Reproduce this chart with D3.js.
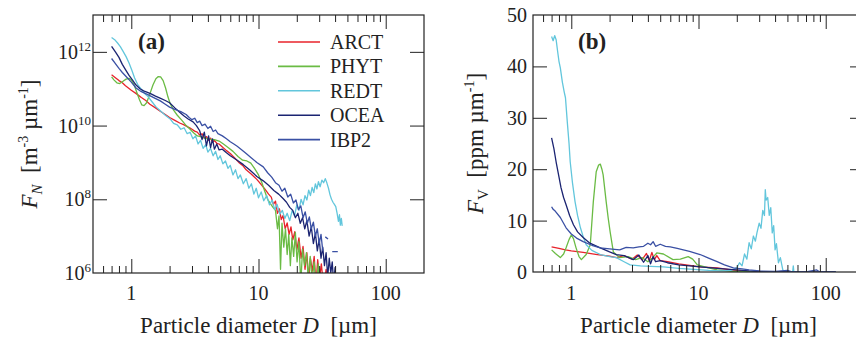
<!DOCTYPE html>
<html>
<head>
<meta charset="utf-8">
<script src="https://cdn.jsdelivr.net/npm/d3@7"></script>
<style>
  body { margin: 0; background: #fff; }
  svg { display: block; font-family: "Liberation Serif", "Times New Roman", serif; }
  .axis path { display: none; }
  .axis line { stroke: #222; stroke-width: 1; }
  .axis text { display: none; }
</style>
</head>
<body>
<div id="chart"></div>
<script>
// series names and colours
const seriesNames = ["ARCT", "PHYT", "REDT", "OCEA", "IBP2"];
const seriesColors = ["#e8232b", "#6abb44", "#62c6dc", "#1b2472", "#3a50a4"];

// panel (a): [diameter in µm, log10 of F_N]
const arctN = [[0.7,11.38],[0.75,11.3],[0.8,11.22],[0.85,11.16],[0.9,11.08],[1.0,10.96],[1.1,10.86],[1.2,10.76],[1.3,10.68],[1.4,10.58],[1.55,10.48],[1.7,10.38],[1.85,10.3],[2.0,10.22],[2.2,10.14],[2.4,10.07],[2.6,10.02],[2.75,9.97],[2.9,9.93],[3.0,9.9],[3.15,9.85],[3.3,9.82],[3.45,9.74],[3.6,9.78],[3.75,9.66],[3.9,9.7],[4.05,9.6],[4.2,9.66],[4.35,9.55],[4.5,9.6],[4.7,9.52],[4.9,9.5],[5.2,9.42],[5.6,9.32],[6.0,9.24],[6.5,9.12],[7.0,9.0],[7.5,8.92],[8.0,8.8],[8.8,8.68],[9.7,8.54],[10.5,8.4],[11.2,8.28],[12.0,8.14],[12.6,8.06],[13.1,7.86],[13.6,7.95],[14.1,7.62],[14.6,7.74],[15.1,7.45],[15.6,7.56],[16.2,7.2],[16.8,7.36],[17.4,7.05],[18.0,7.25],[18.6,6.9],[19.3,7.12],[20.0,6.62],[20.8,6.95],[21.6,6.4],[22.4,6.72],[23.2,6.1],[24.0,6.55],[24.8,5.8],[25.6,6.4],[26.5,6.05],[27.4,6.45],[28.3,5.7],[29.2,6.36],[30.2,5.85],[31.2,6.25],[32.5,5.6],[34,6.1],[35.5,5.5]];
const phytN = [[0.7,11.32],[0.73,11.24],[0.77,11.16],[0.81,11.14],[0.86,11.2],[0.91,11.26],[0.96,11.28],[1.0,11.24],[1.05,11.12],[1.1,10.92],[1.16,10.7],[1.21,10.56],[1.26,10.54],[1.32,10.62],[1.4,10.86],[1.48,11.1],[1.56,11.27],[1.63,11.33],[1.7,11.32],[1.78,11.22],[1.86,11.02],[1.94,10.78],[2.02,10.6],[2.15,10.42],[2.3,10.28],[2.5,10.14],[2.7,10.0],[2.9,9.9],[3.1,9.8],[3.3,9.72],[3.5,9.7],[3.8,9.66],[4.1,9.63],[4.5,9.62],[4.9,9.58],[5.3,9.5],[5.8,9.4],[6.3,9.3],[6.9,9.16],[7.5,9.06],[8.1,9.04],[8.7,8.98],[9.3,8.84],[10.0,8.66],[10.6,8.46],[11.2,8.22],[11.8,8.0],[12.4,7.88],[13.0,7.78],[13.6,7.7],[14.1,7.2],[14.5,7.55],[14.9,6.1],[15.3,7.35],[15.8,6.7],[16.3,7.2],[16.8,6.5],[17.3,7.05],[17.8,6.2],[18.3,6.95],[18.9,6.45],[19.5,7.1],[20.1,6.3],[20.8,6.85],[21.5,5.7],[22.2,6.65],[23.0,6.2],[23.8,6.55],[24.6,5.9],[25.5,6.45],[26.4,5.8],[27.4,6.3],[28.4,5.6],[29.5,6.25],[30.5,5.5]];
const redtN = [[0.7,12.39],[0.74,12.33],[0.78,12.24],[0.82,12.14],[0.86,12.02],[0.91,11.87],[0.96,11.7],[1.01,11.5],[1.06,11.3],[1.12,11.12],[1.2,10.98],[1.28,10.86],[1.36,10.78],[1.46,10.64],[1.57,10.5],[1.69,10.4],[1.85,10.28],[2.02,10.18],[2.15,10.06],[2.3,10.02],[2.45,9.9],[2.6,9.94],[2.75,9.78],[2.9,9.82],[3.05,9.64],[3.2,9.72],[3.35,9.5],[3.5,9.6],[3.67,9.38],[3.85,9.48],[4.0,9.28],[4.2,9.38],[4.4,9.18],[4.6,9.3],[4.8,9.08],[5.0,9.18],[5.25,8.96],[5.5,9.04],[5.75,8.84],[6.0,8.92],[6.3,8.66],[6.6,8.8],[6.9,8.56],[7.2,8.66],[7.6,8.42],[8.0,8.56],[8.4,8.3],[8.8,8.42],[9.2,8.14],[9.6,8.3],[10.0,8.04],[10.5,8.2],[11.0,7.96],[11.6,8.1],[12.2,7.85],[12.8,7.98],[13.4,7.72],[14.0,7.86],[14.7,7.6],[15.4,7.7],[16.1,7.48],[16.8,7.62],[17.6,7.42],[18.4,7.7],[19.2,7.55],[20.0,7.85],[20.8,7.7],[21.6,8.0],[22.4,7.85],[23.2,8.1],[24.0,7.98],[24.8,8.25],[25.6,8.1],[26.4,8.32],[27.2,8.18],[28.0,8.42],[28.8,8.28],[29.6,8.48],[30.5,8.34],[31.5,8.52],[32.5,8.45],[33.5,8.56],[34.5,8.44],[35.5,8.3],[36.5,8.12],[37.5,8.0],[38.5,7.92],[39.5,7.86],[40.5,7.8],[41.5,7.62],[42.5,7.4],[43.3,7.58],[44.0,7.3],[44.8,7.48],[45.5,7.28]];
const oceaN = [[0.7,12.15],[0.75,12.0],[0.8,11.85],[0.85,11.66],[0.91,11.49],[0.96,11.36],[1.02,11.24],[1.09,11.1],[1.17,11.0],[1.25,10.94],[1.34,10.9],[1.43,10.86],[1.55,10.8],[1.7,10.74],[1.85,10.68],[2.0,10.62],[2.2,10.48],[2.4,10.36],[2.6,10.26],[2.8,10.18],[3.06,10.1],[3.25,10.0],[3.45,9.86],[3.6,9.62],[3.75,9.82],[3.9,9.45],[4.05,9.72],[4.2,9.4],[4.35,9.64],[4.5,9.36],[4.7,9.5],[4.9,9.34],[5.2,9.36],[5.6,9.26],[6.0,9.18],[6.8,9.06],[7.6,8.94],[8.5,8.8],[9.7,8.62],[10.9,8.5],[12.0,8.38],[13.2,8.24],[14.4,8.14],[15.6,8.02],[16.6,7.92],[17.6,7.78],[18.6,7.7],[19.5,7.5],[20.4,7.62],[21.3,7.35],[22.2,7.5],[23.1,7.2],[24.0,7.42],[25.0,7.0],[26.0,7.25],[27.0,6.8],[28.0,7.08],[29.0,6.6],[30.0,6.92],[31.0,6.4],[32.0,6.7],[33.0,6.2],[34.0,6.55],[35.0,5.9],[36.0,6.4],[37.0,6.0],[38.0,6.3],[39.0,5.7],[40.0,6.15],[41,5.5]];
const ibp2N = [[0.7,11.82],[0.75,11.68],[0.8,11.55],[0.85,11.44],[0.91,11.33],[1.0,11.18],[1.09,11.02],[1.2,10.92],[1.35,10.84],[1.5,10.76],[1.69,10.67],[1.85,10.58],[2.0,10.5],[2.2,10.44],[2.45,10.38],[2.7,10.3],[2.85,10.22],[3.0,10.16],[3.15,10.2],[3.3,10.08],[3.45,10.12],[3.6,10.0],[3.8,10.04],[4.0,9.92],[4.2,9.98],[4.4,9.84],[4.6,9.88],[4.8,9.78],[5.2,9.72],[5.6,9.64],[6.0,9.56],[6.4,9.5],[6.8,9.44],[7.4,9.34],[8.0,9.24],[8.8,9.12],[9.7,9.0],[10.9,8.88],[11.8,8.72],[12.7,8.6],[13.6,8.45],[14.5,8.38],[15.3,8.22],[16.1,8.3],[17.0,8.06],[17.9,8.14],[18.8,7.9],[19.7,7.98],[20.6,7.72],[21.5,7.82],[22.4,7.5],[23.3,7.66],[24.2,7.35],[25.1,7.52],[26.0,7.2],[27.0,7.38],[28.0,7.0],[29.0,7.2],[30.0,6.8],[31.0,7.05],[32.0,6.6],[32.6,null],[33.5,6.98],[35.2,6.92],[36.0,null],[38.0,6.58],[42.0,6.58]];

// panel (b): [diameter in µm, F_V in ppm/µm]
const arctV = [[0.7,4.9],[0.8,4.6],[0.9,4.3],[1.0,4.1],[1.24,3.8],[1.6,3.4],[2.0,3.1],[2.26,2.8],[2.6,3.2],[3.0,2.5],[3.3,3.3],[3.6,2.4],[3.9,3.6],[4.1,2.2],[4.3,3.8],[4.5,2.4],[4.7,3.2],[5.0,2.2],[5.7,2.0],[7,1.6],[8.5,1.3],[10.3,1.0],[14,0.8],[18,0.4],[25,0.1],[30,0.05],[35,0]];
const phytV = [[0.7,4.3],[0.75,3.6],[0.82,2.8],[0.87,3.5],[0.91,4.7],[0.96,6.3],[1.0,7.2],[1.04,6.5],[1.09,4.7],[1.15,3.0],[1.2,2.4],[1.31,3.4],[1.41,5.3],[1.49,13.7],[1.57,19.5],[1.64,20.8],[1.69,21.0],[1.74,20.0],[1.78,18.9],[1.88,13.7],[1.95,10.5],[2.02,7.8],[2.14,3.9],[2.4,2.8],[2.8,3.0],[3.2,2.4],[3.6,2.8],[4.0,2.0],[4.3,2.6],[4.7,3.7],[5.3,3.5],[6.3,2.4],[7.2,2.5],[8.3,3.0],[9.0,2.5],[9.8,1.4],[12,0.8],[14,0.4],[18,0.15],[25,0.05],[30,0]];
const redtV = [[0.7,45.8],[0.72,45.0],[0.74,46.0],[0.76,45.2],[0.78,43],[0.8,41],[0.82,39.7],[0.85,37],[0.88,35],[0.9,33.9],[0.93,29.2],[0.96,25],[0.98,21.5],[1.02,17.5],[1.07,13.7],[1.12,11],[1.18,8.6],[1.25,6.6],[1.31,5.3],[1.45,4.2],[1.69,3.4],[2.0,3.0],[2.26,2.8],[2.6,2.0],[2.9,1.4],[3.5,1.2],[4.2,1.1],[5.3,1.0],[7,0.7],[9.8,0.45],[12,0.3],[15,0.2],[18,0.3],[20,0.8],[21,1.8],[22,1.2],[23,3.5],[24,2.5],[25,5.7],[26,4.5],[27,7.0],[28,6.0],[28.8,7.6],[30,9.5],[31,8.5],[32,12],[33,11],[33.5,16],[34,14],[35,14.5],[36,11],[37,12.5],[38,7.6],[39,9],[40,4.3],[41,5.5],[42.5,1.8],[44,2.8],[46,0.4],[47,0.2],[47.5,null],[55,0],[55.6,1.2],[56.2,0]];
const oceaV = [[0.7,26.1],[0.73,24],[0.76,21.4],[0.8,18.5],[0.83,16.4],[0.87,14.5],[0.91,13.1],[0.97,11],[1.04,9.2],[1.12,7.8],[1.24,6.7],[1.4,5.6],[1.69,4.7],[2.0,3.9],[2.26,3.4],[2.6,3.2],[3.07,2.4],[3.4,3.3],[3.7,1.9],[4.0,3.2],[4.2,1.6],[4.4,3.0],[4.6,2.0],[5.0,2.2],[5.7,1.8],[7,1.4],[10.3,1.0],[14,0.7],[18.8,0.45],[25,0.2],[30,0.1],[40,0.05],[60,0],[80,0],[120,0]];
const ibp2V = [[0.7,12.7],[0.72,12.2],[0.75,11.8],[0.82,10.6],[0.91,8.6],[1.0,7.4],[1.1,6.6],[1.24,5.9],[1.45,5.2],[1.69,4.7],[2.0,4.5],[2.4,4.3],[2.7,4.8],[3.07,4.7],[3.4,4.9],[3.7,5.0],[4.0,5.6],[4.2,5.3],[4.4,5.9],[4.6,5.0],[5.0,5.4],[5.5,5.0],[6.0,4.9],[6.8,4.6],[7.6,4.3],[8.5,4.0],[10.3,3.4],[12,2.7],[14,2.0],[16,1.4],[18.8,0.8],[22,0.6],[25,0.4],[30,0.2],[40,0.1],[50,0.3],[55,0],[70,0],[85,0.4],[90,0],[120,0]];

const seriesN = [arctN, phytN, redtN, oceaN, ibp2N];
const seriesV = [arctV, phytV, redtV, oceaV, ibp2V];

// ticks
const xMajor = [1, 10, 100];
const xMinor = [0.6, 0.7, 0.8, 0.9, 2, 3, 4, 5, 6, 7, 8, 9, 20, 30, 40, 50, 60, 70, 80, 90];
const yTicksA = [1e6, 1e8, 1e10, 1e12];
const yExpA = ["6", "8", "10", "12"];
const yTicksB = [0, 10, 20, 30, 40, 50];

const width = 856, height = 337;
const svg = d3.select("#chart").append("svg")
  .attr("width", width)
  .attr("height", height);

// plot boxes
const boxA = { left: 93, right: 424, top: 15, bottom: 273 };
const boxB = { left: 533, right: 864, top: 15, bottom: 272 };

const xa = d3.scaleLog().domain([0.5, 200]).range([boxA.left, boxA.right]);
const ya = d3.scaleLog().domain([1e6, 1e13]).range([boxA.bottom, boxA.top]);
const xb = d3.scaleLog().domain([0.5, 200]).range([boxB.left, boxB.right]);
const yb = d3.scaleLinear().domain([0, 50]).range([boxB.bottom, boxB.top]);

const defs = svg.append("defs");
function clip(id, box) {
  defs.append("clipPath").attr("id", id)
    .append("rect")
    .attr("x", box.left).attr("y", box.top)
    .attr("width", box.right - box.left).attr("height", box.bottom - box.top);
}
clip("clipA", boxA);
clip("clipB", boxB);

// x ticks, top and bottom, pointing inward
function xAxes(x, box) {
  svg.append("g").attr("class", "axis")
    .attr("transform", `translate(0,${box.bottom})`)
    .call(d3.axisBottom(x).tickValues(xMajor).tickSize(-14).tickSizeOuter(0));
  svg.append("g").attr("class", "axis")
    .attr("transform", `translate(0,${box.bottom})`)
    .call(d3.axisBottom(x).tickValues(xMinor).tickSize(-7).tickSizeOuter(0));
  svg.append("g").attr("class", "axis")
    .attr("transform", `translate(0,${box.top})`)
    .call(d3.axisTop(x).tickValues(xMajor).tickSize(-14).tickSizeOuter(0));
  svg.append("g").attr("class", "axis")
    .attr("transform", `translate(0,${box.top})`)
    .call(d3.axisTop(x).tickValues(xMinor).tickSize(-7).tickSizeOuter(0));

  svg.append("g").selectAll("text")
    .data(xMajor).enter().append("text")
    .attr("x", d => x(d))
    .attr("y", 300)
    .attr("text-anchor", "middle")
    .style("font-size", "20px")
    .style("fill", "#222")
    .text(d => d);
}

function yAxes(y, box, ticks) {
  svg.append("g").attr("class", "axis")
    .attr("transform", `translate(${box.left},0)`)
    .call(d3.axisLeft(y).tickValues(ticks).tickSize(-14).tickSizeOuter(0));
  svg.append("g").attr("class", "axis")
    .attr("transform", `translate(${box.right},0)`)
    .call(d3.axisRight(y).tickValues(ticks).tickSize(-14).tickSizeOuter(0));
}

function frame(box) {
  svg.append("rect")
    .attr("x", box.left).attr("y", box.top)
    .attr("width", box.right - box.left).attr("height", box.bottom - box.top)
    .attr("fill", "none")
    .attr("stroke", "#222")
    .attr("stroke-width", 1.2);
}

// ---- panel (a)
const lineA = d3.line()
  .defined(d => d[1] != null)
  .x(d => xa(d[0]))
  .y(d => ya(Math.pow(10, d[1])));

svg.append("g").attr("clip-path", "url(#clipA)")
  .selectAll("path")
  .data(seriesN).enter().append("path")
  .attr("d", d => lineA(d))
  .attr("fill", "none")
  .attr("stroke", (d, i) => seriesColors[i])
  .attr("stroke-width", 1.3)
  .attr("stroke-linejoin", "round");

xAxes(xa, boxA);
yAxes(ya, boxA, yTicksA.slice(1));
frame(boxA);

const yLabA = svg.append("g").selectAll("text")
  .data(yTicksA).enter().append("text")
  .attr("x", 91)
  .attr("y", d => ya(d) + 7)
  .attr("text-anchor", "end")
  .style("font-size", "20px")
  .style("fill", "#222");
yLabA.append("tspan").text("10");
yLabA.append("tspan")
  .attr("dy", -8)
  .style("font-size", "13px")
  .text((d, i) => yExpA[i]);

svg.append("text")
  .attr("x", 138).attr("y", 49)
  .style("font-size", "23px")
  .style("font-weight", "bold")
  .style("fill", "#222")
  .text("(a)");

// legend
const legend = svg.append("g").selectAll("g")
  .data(seriesNames).enter().append("g")
  .attr("transform", (d, i) => `translate(0,${42 + i * 24.4})`);
legend.append("line")
  .attr("x1", 278).attr("x2", 320)
  .attr("stroke", (d, i) => seriesColors[i])
  .attr("stroke-width", 1.6);
legend.append("text")
  .attr("x", 330).attr("y", 7)
  .style("font-size", "20px")
  .style("fill", "#222")
  .text(d => d);

// axis titles
function xTitle(cx) {
  const t = svg.append("text")
    .attr("x", cx).attr("y", 333)
    .attr("text-anchor", "middle")
    .style("font-size", "23px")
    .style("fill", "#222");
  t.append("tspan").text("Particle diameter ");
  t.append("tspan").style("font-style", "italic").text("D");
  t.append("tspan").text("\u00a0 [µm]");
}
xTitle((boxA.left + boxA.right) / 2);

const yTitleA = svg.append("text")
  .attr("transform", `translate(37,${(boxA.top + boxA.bottom) / 2}) rotate(-90)`)
  .attr("text-anchor", "middle")
  .style("font-size", "23px")
  .style("fill", "#222");
yTitleA.append("tspan").style("font-style", "italic").text("F");
yTitleA.append("tspan").attr("dy", 5).style("font-size", "15px").style("font-style", "italic").text("N");
yTitleA.append("tspan").attr("dy", -5).text("\u00a0 [m");
yTitleA.append("tspan").attr("dy", -9).style("font-size", "14px").text("-3");
yTitleA.append("tspan").attr("dy", 9).text(" µm");
yTitleA.append("tspan").attr("dy", -9).style("font-size", "14px").text("-1");
yTitleA.append("tspan").attr("dy", 9).text("]");

// ---- panel (b)
const lineB = d3.line()
  .defined(d => d[1] != null)
  .x(d => xb(d[0]))
  .y(d => yb(d[1]));

svg.append("g").attr("clip-path", "url(#clipB)")
  .selectAll("path")
  .data(seriesV).enter().append("path")
  .attr("d", d => lineB(d))
  .attr("fill", "none")
  .attr("stroke", (d, i) => seriesColors[i])
  .attr("stroke-width", 1.3)
  .attr("stroke-linejoin", "round");

xAxes(xb, boxB);
yAxes(yb, boxB, yTicksB.slice(1, -1));
frame(boxB);

svg.append("g").selectAll("text")
  .data(yTicksB).enter().append("text")
  .attr("x", 527)
  .attr("y", d => yb(d) + 7)
  .attr("text-anchor", "end")
  .style("font-size", "20px")
  .style("fill", "#222")
  .text(d => d);

svg.append("text")
  .attr("x", 578).attr("y", 49)
  .style("font-size", "23px")
  .style("font-weight", "bold")
  .style("fill", "#222")
  .text("(b)");

xTitle((boxB.left + boxB.right) / 2);

const yTitleB = svg.append("text")
  .attr("transform", `translate(483,${(boxB.top + boxB.bottom) / 2}) rotate(-90)`)
  .attr("text-anchor", "middle")
  .style("font-size", "23px")
  .style("fill", "#222");
yTitleB.append("tspan").style("font-style", "italic").text("F");
yTitleB.append("tspan").attr("dy", 5).style("font-size", "15px").text("V");
yTitleB.append("tspan").attr("dy", -5).text("\u00a0 [ppm µm");
yTitleB.append("tspan").attr("dy", -9).style("font-size", "14px").text("-1");
yTitleB.append("tspan").attr("dy", 9).text("]");
</script>
</body>
</html>
